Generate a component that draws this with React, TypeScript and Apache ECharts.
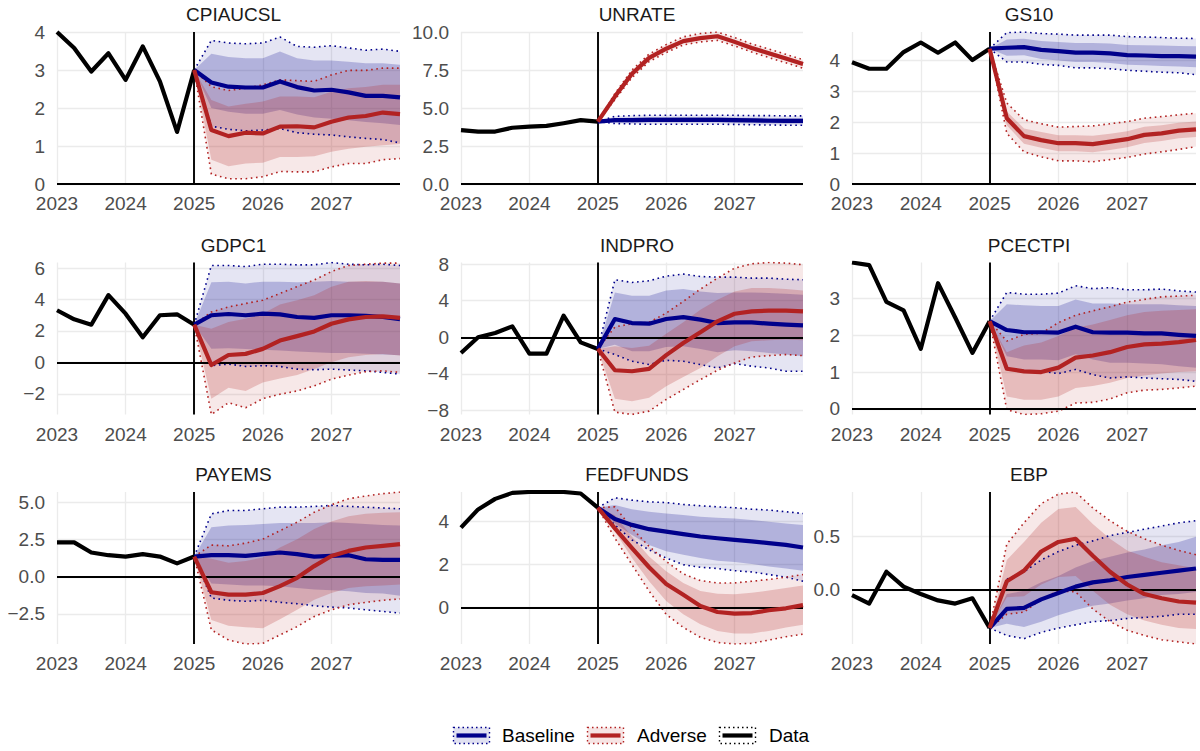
import React, { useEffect, useRef } from "react";
import * as echarts from "echarts";

// ---------- time axis ----------
const histQuarters = ["2023Q1", "2023Q2", "2023Q3", "2023Q4", "2024Q1", "2024Q2", "2024Q3", "2024Q4", "2025Q1"];
const fcQuarters = ["2025Q2", "2025Q3", "2025Q4", "2026Q1", "2026Q2", "2026Q3", "2026Q4", "2027Q1", "2027Q2", "2027Q3", "2027Q4", "2028Q1"];
const yearTicks = [2023, 2024, 2025, 2026, 2027];
const xStart = 2023;
const xEnd = 2028;
const forecastOrigin = 2025;

// ---------- CPIAUCSL ----------
const cpiHist = [4.0, 3.58, 2.96, 3.44, 2.74, 3.62, 2.7, 1.37, 3.0];
const cpiBaseMid = [2.67, 2.56, 2.54, 2.54, 2.7, 2.55, 2.46, 2.48, 2.41, 2.32, 2.32, 2.28];
const cpiBaseOutHi = [3.78, 3.71, 3.69, 3.71, 3.87, 3.62, 3.6, 3.64, 3.58, 3.52, 3.55, 3.49];
const cpiBaseOutLo = [1.52, 1.44, 1.4, 1.42, 1.46, 1.35, 1.31, 1.29, 1.24, 1.2, 1.17, 1.08];
const cpiBaseInHi = [3.43, 3.34, 3.31, 3.31, 3.49, 3.31, 3.25, 3.25, 3.22, 3.18, 3.18, 3.14];
const cpiBaseInLo = [2.0, 1.9, 1.85, 1.85, 1.95, 1.83, 1.75, 1.72, 1.68, 1.63, 1.6, 1.55];
const cpiAdvMid = [1.42, 1.26, 1.35, 1.33, 1.51, 1.52, 1.49, 1.64, 1.75, 1.79, 1.88, 1.84];
const cpiAdvOutHi = [2.56, 2.46, 2.52, 2.61, 2.74, 2.72, 2.7, 2.87, 2.99, 2.99, 3.05, 3.05];
const cpiAdvOutLo = [0.26, 0.14, 0.14, 0.19, 0.33, 0.32, 0.32, 0.45, 0.54, 0.54, 0.64, 0.67];
const cpiAdvInHi = [2.21, 2.04, 2.11, 2.17, 2.3, 2.3, 2.28, 2.43, 2.52, 2.55, 2.61, 2.61];
const cpiAdvInLo = [0.64, 0.47, 0.54, 0.56, 0.71, 0.71, 0.73, 0.85, 0.93, 0.98, 1.02, 1.05];
const cpiTicks = [0, 1, 2, 3, 4];

// ---------- UNRATE ----------
const unHist = [3.55, 3.45, 3.45, 3.7, 3.78, 3.82, 4.0, 4.2, 4.1];
const unBaseMid = [4.2, 4.2, 4.22, 4.22, 4.22, 4.22, 4.22, 4.2, 4.18, 4.16, 4.15, 4.15];
const unBaseOutHi = [4.45, 4.5, 4.52, 4.52, 4.52, 4.52, 4.52, 4.52, 4.5, 4.5, 4.48, 4.48];
const unBaseOutLo = [3.98, 3.95, 3.93, 3.93, 3.93, 3.93, 3.93, 3.92, 3.9, 3.88, 3.87, 3.87];
const unBaseInHi = [4.35, 4.38, 4.4, 4.4, 4.4, 4.4, 4.4, 4.38, 4.36, 4.35, 4.33, 4.33];
const unBaseInLo = [4.05, 4.02, 4.04, 4.04, 4.04, 4.04, 4.04, 4.02, 4.0, 3.98, 3.97, 3.97];
const unAdvMid = [5.75, 7.25, 8.3, 8.9, 9.4, 9.6, 9.72, 9.35, 8.95, 8.6, 8.25, 7.9];
const unAdvOutHi = [5.95, 7.5, 8.55, 9.17, 9.68, 9.9, 10.0, 9.63, 9.22, 8.88, 8.53, 8.18];
const unAdvOutLo = [5.55, 7.0, 8.05, 8.65, 9.15, 9.35, 9.45, 9.08, 8.68, 8.32, 7.97, 7.62];
const unAdvInHi = [5.85, 7.38, 8.43, 9.03, 9.53, 9.73, 9.85, 9.49, 9.09, 8.74, 8.39, 8.04];
const unAdvInLo = [5.65, 7.12, 8.17, 8.77, 9.27, 9.47, 9.59, 9.21, 8.81, 8.46, 8.11, 7.76];
const unTicks = [0, 2.5, 5, 7.5, 10];

// ---------- GS10 ----------
const gsHist = [3.94, 3.73, 3.73, 4.27, 4.58, 4.25, 4.58, 4.01, 4.38];
const gsBaseMid = [4.41, 4.43, 4.34, 4.3, 4.25, 4.25, 4.23, 4.17, 4.16, 4.14, 4.14, 4.12];
const gsBaseOutHi = [4.9, 4.92, 4.87, 4.85, 4.82, 4.82, 4.82, 4.77, 4.76, 4.74, 4.72, 4.71];
const gsBaseOutLo = [3.95, 3.95, 3.87, 3.84, 3.76, 3.76, 3.73, 3.68, 3.65, 3.62, 3.6, 3.54];
const gsBaseInHi = [4.68, 4.7, 4.63, 4.6, 4.56, 4.56, 4.55, 4.5, 4.49, 4.48, 4.47, 4.46];
const gsBaseInLo = [4.15, 4.17, 4.05, 4.0, 3.95, 3.95, 3.92, 3.86, 3.84, 3.82, 3.8, 3.78];
const gsAdvMid = [2.13, 1.55, 1.42, 1.32, 1.32, 1.29, 1.37, 1.45, 1.59, 1.64, 1.73, 1.77];
const gsAdvOutHi = [2.62, 2.08, 1.95, 1.84, 1.86, 1.88, 1.95, 2.02, 2.13, 2.18, 2.24, 2.29];
const gsAdvOutLo = [1.64, 1.04, 0.88, 0.75, 0.75, 0.72, 0.79, 0.86, 0.97, 1.04, 1.12, 1.21];
const gsAdvInHi = [2.35, 1.8, 1.68, 1.58, 1.58, 1.56, 1.63, 1.71, 1.85, 1.9, 1.98, 2.02];
const gsAdvInLo = [1.9, 1.3, 1.17, 1.06, 1.06, 1.03, 1.1, 1.19, 1.33, 1.39, 1.48, 1.52];
const gsTicks = [0, 1, 2, 3, 4];

// ---------- GDPC1 ----------
const gdpHist = [3.32, 2.74, 2.4, 4.28, 3.1, 1.6, 3.0, 3.06, 2.4];
const gdpBaseMid = [3.0, 3.08, 3.0, 3.1, 3.06, 2.89, 2.83, 3.0, 3.0, 2.96, 2.89, 2.75];
const gdpBaseOutHi = [6.17, 6.17, 6.1, 6.25, 6.25, 6.21, 6.21, 6.36, 6.25, 6.21, 6.25, 6.17];
const gdpBaseOutLo = [-0.21, -0.11, -0.26, -0.21, -0.26, -0.43, -0.47, -0.43, -0.49, -0.54, -0.64, -0.75];
const gdpBaseInHi = [5.1, 5.14, 5.03, 5.14, 5.14, 5.1, 5.14, 5.18, 5.14, 5.14, 5.14, 5.03];
const gdpBaseInLo = [0.86, 0.9, 0.85, 0.8, 0.75, 0.7, 0.65, 0.6, 0.6, 0.55, 0.5, 0.45];
const gdpAdvMid = [-0.17, 0.47, 0.54, 0.86, 1.39, 1.67, 1.97, 2.46, 2.74, 2.89, 2.93, 2.83];
const gdpAdvOutHi = [3.21, 3.53, 3.75, 3.96, 4.39, 4.82, 5.25, 5.78, 6.17, 6.25, 6.32, 6.32];
const gdpAdvOutLo = [-3.32, -2.57, -2.89, -2.31, -2.03, -1.82, -1.5, -1.07, -0.81, -0.6, -0.54, -0.64];
const gdpAdvInHi = [2.14, 2.57, 2.78, 3.1, 3.68, 3.96, 4.28, 4.82, 5.14, 5.18, 5.14, 5.03];
const gdpAdvInLo = [-2.31, -1.61, -1.82, -1.28, -1.03, -0.81, -0.43, 0.0, 0.32, 0.47, 0.54, 0.43];
const gdpTicks = [-2, 0, 2, 4, 6];

// ---------- INDPRO ----------
const ipHist = [-1.71, 0.0, 0.47, 1.2, -1.78, -1.78, 2.36, -0.55, -1.27];
const ipBaseMid = [2.0, 1.56, 1.49, 2.0, 2.2, 1.93, 1.56, 1.64, 1.64, 1.49, 1.38, 1.31];
const ipBaseOutHi = [6.29, 6.0, 6.18, 6.69, 6.91, 6.65, 6.58, 6.58, 6.47, 6.47, 6.36, 6.29];
const ipBaseOutLo = [-1.89, -2.62, -2.98, -2.51, -2.62, -2.98, -3.35, -2.87, -3.16, -3.35, -3.71, -3.71];
const ipBaseInHi = [4.91, 4.55, 4.55, 5.13, 5.27, 5.02, 4.84, 4.91, 4.91, 4.84, 4.76, 4.65];
const ipBaseInLo = [-0.8, -1.53, -1.53, -1.05, -0.98, -1.27, -1.64, -1.42, -1.53, -1.71, -1.89, -2.07];
const ipAdvMid = [-3.6, -3.71, -3.45, -1.95, -0.62, 0.55, 1.75, 2.58, 2.84, 2.91, 2.91, 2.84];
const ipAdvOutHi = [1.13, 1.49, 1.64, 2.65, 3.93, 5.27, 6.47, 7.56, 8.04, 8.18, 8.11, 7.93];
const ipAdvOutLo = [-8.18, -8.44, -8.07, -6.8, -5.71, -4.62, -3.6, -2.8, -2.15, -2.0, -1.89, -2.0];
const ipAdvInHi = [-0.98, -1.16, -0.91, 0.4, 1.64, 3.02, 4.11, 5.02, 5.38, 5.38, 5.27, 5.13];
const ipAdvInLo = [-6.73, -6.98, -6.62, -5.35, -4.33, -3.35, -2.07, -0.98, -0.44, -0.33, -0.25, -0.33];
const ipTicks = [-8, -4, 0, 4, 8];

// ---------- PCECTPI ----------
const pceHist = [3.97, 3.9, 2.9, 2.67, 1.63, 3.41, 2.48, 1.52, 2.38];
const pceBaseMid = [2.14, 2.08, 2.08, 2.07, 2.23, 2.08, 2.07, 2.07, 2.05, 2.05, 2.01, 1.98];
const pceBaseOutHi = [3.16, 3.11, 3.11, 3.14, 3.34, 3.26, 3.29, 3.23, 3.23, 3.25, 3.2, 3.17];
const pceBaseOutLo = [1.07, 1.02, 1.02, 0.96, 1.07, 0.93, 0.84, 0.87, 0.84, 0.82, 0.8, 0.75];
const pceBaseInHi = [2.84, 2.81, 2.79, 2.79, 2.97, 2.86, 2.86, 2.84, 2.84, 2.84, 2.81, 2.79];
const pceBaseInLo = [1.43, 1.34, 1.34, 1.32, 1.48, 1.34, 1.25, 1.25, 1.23, 1.21, 1.16, 1.12];
const pceAdvMid = [1.09, 1.02, 1.0, 1.12, 1.39, 1.45, 1.54, 1.68, 1.75, 1.77, 1.81, 1.87];
const pceAdvOutHi = [1.84, 2.02, 2.05, 2.34, 2.54, 2.66, 2.77, 2.9, 2.97, 3.04, 3.06, 3.08];
const pceAdvOutLo = [-0.02, -0.15, -0.13, -0.06, 0.16, 0.18, 0.27, 0.44, 0.51, 0.53, 0.57, 0.62];
const pceAdvInHi = [1.54, 1.72, 1.8, 1.98, 2.2, 2.29, 2.41, 2.54, 2.63, 2.66, 2.68, 2.7];
const pceAdvInLo = [0.34, 0.25, 0.25, 0.34, 0.57, 0.62, 0.71, 0.84, 0.91, 0.96, 1.0, 1.02];
const pceTicks = [0, 1, 2, 3];

// ---------- PAYEMS ----------
const payHist = [2.31, 2.31, 1.63, 1.45, 1.36, 1.52, 1.36, 0.9, 1.36];
const payBaseMid = [1.45, 1.45, 1.4, 1.52, 1.63, 1.52, 1.36, 1.4, 1.45, 1.18, 1.13, 1.13];
const payBaseOutHi = [4.23, 4.46, 4.46, 4.57, 4.68, 4.68, 4.73, 4.8, 4.73, 4.68, 4.62, 4.57];
const payBaseOutLo = [-1.43, -1.58, -1.65, -1.58, -1.72, -1.81, -1.95, -2.04, -2.1, -2.22, -2.33, -2.44];
const payBaseInHi = [3.33, 3.44, 3.48, 3.55, 3.62, 3.62, 3.62, 3.67, 3.62, 3.55, 3.48, 3.44];
const payBaseInLo = [-0.45, -0.52, -0.59, -0.59, -0.63, -0.75, -0.86, -0.9, -0.97, -1.09, -1.13, -1.27];
const payAdvMid = [-1.04, -1.2, -1.2, -1.09, -0.63, -0.07, 0.72, 1.4, 1.74, 1.97, 2.08, 2.19];
const payAdvOutHi = [2.13, 2.08, 2.26, 2.53, 3.1, 3.67, 4.34, 4.84, 5.25, 5.43, 5.59, 5.7];
const payAdvOutLo = [-3.57, -4.25, -4.52, -4.48, -3.91, -3.35, -2.67, -2.22, -1.88, -1.72, -1.58, -1.49];
const payAdvInHi = [1.22, 0.95, 1.06, 1.29, 1.97, 2.53, 3.21, 3.71, 4.07, 4.23, 4.3, 4.34];
const payAdvInLo = [-2.9, -3.3, -3.39, -3.46, -2.85, -2.22, -1.54, -1.09, -0.75, -0.63, -0.59, -0.52];
const payTicks = [-2.5, 0, 2.5, 5];

// ---------- FEDFUNDS ----------
const ffHist = [3.72, 4.57, 5.06, 5.34, 5.38, 5.38, 5.38, 5.31, 4.65];
const ffBaseMid = [4.12, 3.85, 3.65, 3.54, 3.42, 3.31, 3.23, 3.15, 3.08, 3.0, 2.92, 2.8];
const ffBaseOutHi = [5.11, 5.0, 4.92, 4.89, 4.8, 4.74, 4.69, 4.65, 4.58, 4.54, 4.46, 4.38];
const ffBaseOutLo = [3.85, 3.15, 2.69, 2.31, 2.0, 1.88, 1.82, 1.72, 1.66, 1.54, 1.42, 1.23];
const ffBaseInHi = [4.77, 4.58, 4.46, 4.38, 4.31, 4.23, 4.18, 4.15, 4.08, 4.0, 3.92, 3.85];
const ffBaseInLo = [3.92, 3.38, 2.92, 2.62, 2.46, 2.31, 2.18, 2.12, 2.03, 1.92, 1.82, 1.72];
const ffAdvMid = [3.69, 2.77, 1.88, 1.1, 0.6, 0.08, -0.2, -0.28, -0.25, -0.12, -0.03, 0.12];
const ffAdvOutHi = [4.69, 3.69, 2.85, 2.15, 1.57, 1.26, 1.15, 1.15, 1.23, 1.31, 1.42, 1.54];
const ffAdvOutLo = [3.23, 2.0, 0.77, -0.31, -0.92, -1.38, -1.62, -1.69, -1.66, -1.51, -1.35, -1.23];
const ffAdvInHi = [4.3, 3.3, 2.38, 1.69, 1.15, 0.77, 0.65, 0.62, 0.69, 0.8, 0.92, 1.03];
const ffAdvInLo = [3.54, 2.31, 1.23, 0.31, -0.31, -0.77, -1.08, -1.2, -1.2, -1.08, -0.92, -0.8];
const ffTicks = [0, 2, 4];

// ---------- EBP ----------
const ebpHist = [-0.05, -0.13, 0.17, 0.03, -0.04, -0.1, -0.13, -0.08, -0.36];
const ebpBaseMid = [-0.18, -0.17, -0.09, -0.03, 0.03, 0.07, 0.09, 0.12, 0.14, 0.16, 0.18, 0.2];
const ebpBaseOutHi = [0.1, 0.17, 0.28, 0.36, 0.42, 0.46, 0.51, 0.54, 0.57, 0.6, 0.63, 0.65];
const ebpBaseOutLo = [-0.43, -0.46, -0.4, -0.36, -0.33, -0.3, -0.29, -0.27, -0.26, -0.25, -0.23, -0.23];
const ebpBaseInHi = [-0.04, -0.01, 0.07, 0.13, 0.21, 0.27, 0.31, 0.35, 0.38, 0.42, 0.45, 0.5];
const ebpBaseInLo = [-0.32, -0.35, -0.3, -0.24, -0.19, -0.15, -0.13, -0.1, -0.08, -0.05, -0.04, -0.02];
const ebpAdvMid = [0.08, 0.18, 0.36, 0.45, 0.48, 0.32, 0.17, 0.05, -0.04, -0.08, -0.11, -0.12];
const ebpAdvOutHi = [0.43, 0.63, 0.81, 0.9, 0.92, 0.77, 0.65, 0.55, 0.48, 0.42, 0.37, 0.33];
const ebpAdvOutLo = [-0.23, -0.21, -0.09, -0.01, -0.02, -0.18, -0.3, -0.38, -0.43, -0.47, -0.49, -0.51];
const ebpAdvInHi = [0.28, 0.45, 0.63, 0.76, 0.78, 0.62, 0.48, 0.37, 0.31, 0.26, 0.23, 0.2];
const ebpAdvInLo = [-0.07, -0.06, 0.05, 0.12, 0.13, -0.01, -0.14, -0.23, -0.29, -0.33, -0.36, -0.37];
const ebpTicks = [0, 0.5];

// ---------- panel table ----------
const panels = [
  { name: "CPIAUCSL", hist: cpiHist, ticks: cpiTicks, digits: 0, bMid: cpiBaseMid, bInLo: cpiBaseInLo, bInHi: cpiBaseInHi, bOutLo: cpiBaseOutLo, bOutHi: cpiBaseOutHi, aMid: cpiAdvMid, aInLo: cpiAdvInLo, aInHi: cpiAdvInHi, aOutLo: cpiAdvOutLo, aOutHi: cpiAdvOutHi },
  { name: "UNRATE", hist: unHist, ticks: unTicks, digits: 1, bMid: unBaseMid, bInLo: unBaseInLo, bInHi: unBaseInHi, bOutLo: unBaseOutLo, bOutHi: unBaseOutHi, aMid: unAdvMid, aInLo: unAdvInLo, aInHi: unAdvInHi, aOutLo: unAdvOutLo, aOutHi: unAdvOutHi },
  { name: "GS10", hist: gsHist, ticks: gsTicks, digits: 0, bMid: gsBaseMid, bInLo: gsBaseInLo, bInHi: gsBaseInHi, bOutLo: gsBaseOutLo, bOutHi: gsBaseOutHi, aMid: gsAdvMid, aInLo: gsAdvInLo, aInHi: gsAdvInHi, aOutLo: gsAdvOutLo, aOutHi: gsAdvOutHi },
  { name: "GDPC1", hist: gdpHist, ticks: gdpTicks, digits: 0, bMid: gdpBaseMid, bInLo: gdpBaseInLo, bInHi: gdpBaseInHi, bOutLo: gdpBaseOutLo, bOutHi: gdpBaseOutHi, aMid: gdpAdvMid, aInLo: gdpAdvInLo, aInHi: gdpAdvInHi, aOutLo: gdpAdvOutLo, aOutHi: gdpAdvOutHi },
  { name: "INDPRO", hist: ipHist, ticks: ipTicks, digits: 0, bMid: ipBaseMid, bInLo: ipBaseInLo, bInHi: ipBaseInHi, bOutLo: ipBaseOutLo, bOutHi: ipBaseOutHi, aMid: ipAdvMid, aInLo: ipAdvInLo, aInHi: ipAdvInHi, aOutLo: ipAdvOutLo, aOutHi: ipAdvOutHi },
  { name: "PCECTPI", hist: pceHist, ticks: pceTicks, digits: 0, bMid: pceBaseMid, bInLo: pceBaseInLo, bInHi: pceBaseInHi, bOutLo: pceBaseOutLo, bOutHi: pceBaseOutHi, aMid: pceAdvMid, aInLo: pceAdvInLo, aInHi: pceAdvInHi, aOutLo: pceAdvOutLo, aOutHi: pceAdvOutHi },
  { name: "PAYEMS", hist: payHist, ticks: payTicks, digits: 1, bMid: payBaseMid, bInLo: payBaseInLo, bInHi: payBaseInHi, bOutLo: payBaseOutLo, bOutHi: payBaseOutHi, aMid: payAdvMid, aInLo: payAdvInLo, aInHi: payAdvInHi, aOutLo: payAdvOutLo, aOutHi: payAdvOutHi },
  { name: "FEDFUNDS", hist: ffHist, ticks: ffTicks, digits: 0, bMid: ffBaseMid, bInLo: ffBaseInLo, bInHi: ffBaseInHi, bOutLo: ffBaseOutLo, bOutHi: ffBaseOutHi, aMid: ffAdvMid, aInLo: ffAdvInLo, aInHi: ffAdvInHi, aOutLo: ffAdvOutLo, aOutHi: ffAdvOutHi },
  { name: "EBP", hist: ebpHist, ticks: ebpTicks, digits: 1, bMid: ebpBaseMid, bInLo: ebpBaseInLo, bInHi: ebpBaseInHi, bOutLo: ebpBaseOutLo, bOutHi: ebpBaseOutHi, aMid: ebpAdvMid, aInLo: ebpAdvInLo, aInHi: ebpAdvInHi, aOutLo: ebpAdvOutLo, aOutHi: ebpAdvOutHi },
];

// ---------- styling / layout ----------
const FONT = "'Liberation Sans', Arial, Helvetica, sans-serif";
const NAVY = "#00008B";
const RED = "#B22222";
const colLeft = [57, 461, 852];
const colWidth = [343, 342, 344];
const rowTop = [32, 262.5, 492];
const rowHeight = 152;
const GRID_COLOR = "#ebebeb";

const qNum = (q: string) => Number(q.slice(0, 4)) + (Number(q.slice(5)) - 1) / 4;
const histX = histQuarters.map(qNum);
const fcX = [histQuarters[histQuarters.length - 1], ...fcQuarters].map(qNum);

const fmtTick = (digits: number) => (v: number) => {
  const s = Math.abs(v).toFixed(digits);
  return v < -1e-9 ? "\u2212" + s : s;
};

function buildOption() {
  const grids: any[] = [];
  const xAxes: any[] = [];
  const yAxes: any[] = [];
  const titles: any[] = [];
  const series: any[] = [];

  panels.forEach((p, i) => {
    const col = i % 3;
    const row = Math.floor(i / 3);
    const last = p.hist[p.hist.length - 1];
    const withStart = (arr: number[]) => [last, ...arr];
    const all = [
      0, ...p.hist, ...p.bOutLo, ...p.bOutHi, ...p.aOutLo, ...p.aOutHi,
      ...p.bInLo, ...p.bInHi, ...p.aInLo, ...p.aInHi, ...p.bMid, ...p.aMid,
    ];
    const yMin = Math.min(...all);
    const yMax = Math.max(...all);

    grids.push({
      left: colLeft[col], top: rowTop[row], width: colWidth[col], height: rowHeight,
      containLabel: false, outerBoundsMode: "none",
    });
    xAxes.push({
      type: "value", gridIndex: i, min: xStart, max: xEnd,
      axisLine: { show: false, onZero: false },
      axisTick: { show: false, customValues: yearTicks },
      axisLabel: {
        customValues: yearTicks, formatter: (v: number) => String(Math.round(v)),
        color: "#4d4d4d", fontSize: 19, fontFamily: FONT, margin: 10,
      },
      splitLine: { show: true, lineStyle: { color: GRID_COLOR, width: 1.3 } },
    });
    yAxes.push({
      type: "value", gridIndex: i, min: yMin, max: yMax,
      axisLine: { show: false, onZero: false },
      axisTick: { show: false, customValues: p.ticks },
      axisLabel: {
        customValues: p.ticks, formatter: fmtTick(p.digits),
        color: "#4d4d4d", fontSize: 19, fontFamily: FONT, margin: 12,
      },
      splitLine: { show: true, lineStyle: { color: GRID_COLOR, width: 1.3 } },
    });
    titles.push({
      text: p.name,
      left: colLeft[col] + colWidth[col] / 2,
      top: rowTop[row] - 32,
      textAlign: "center",
      textStyle: { fontSize: 19, fontWeight: "normal", color: "#1a1a1a", fontFamily: FONT },
    });

    const band = (lo: number[], hi: number[], color: string) => ({
      type: "custom",
      xAxisIndex: i, yAxisIndex: i, silent: true,
      data: fcX.map((x, k) => [x, withStart(lo)[k], withStart(hi)[k]]),
      encode: { x: 0, y: [1, 2] },
      renderItem: (params: any, api: any) => {
        if (params.dataIndexInside !== 0) return null;
        const n = params.dataInsideLength;
        const up: number[][] = [];
        const dn: number[][] = [];
        for (let k = 0; k < n; k++) {
          up.push(api.coord([api.value(0, k), api.value(2, k)]));
          dn.push(api.coord([api.value(0, k), api.value(1, k)]));
        }
        return {
          type: "polygon",
          shape: { points: up.concat(dn.reverse()) },
          style: { fill: color, stroke: "none" },
          silent: true,
        };
      },
    });
    const line = (xs: number[], ys: number[], color: string, width: number, dashed: boolean, z: number, extra: any = {}) => ({
      type: "line",
      xAxisIndex: i, yAxisIndex: i, silent: true,
      data: xs.map((x, k) => [x, ys[k]]),
      symbol: "none", showSymbol: false,
      lineStyle: dashed
        ? { color, width: 1.6, type: [1.6, 3.6], cap: "butt" }
        : { color, width, type: "solid", join: "round", cap: "butt" },
      z,
      ...extra,
    });

    series.push(band(p.bOutLo, p.bOutHi, "rgba(0,0,139,0.10)"));
    series.push(band(p.bInLo, p.bInHi, "rgba(0,0,139,0.22)"));
    series.push(band(p.aOutLo, p.aOutHi, "rgba(178,34,34,0.10)"));
    series.push(band(p.aInLo, p.aInHi, "rgba(178,34,34,0.22)"));
    series.push(line(fcX, withStart(p.bOutHi), NAVY, 1.6, true, 3));
    series.push(line(fcX, withStart(p.bOutLo), NAVY, 1.6, true, 3));
    series.push(line(fcX, withStart(p.aOutHi), RED, 1.6, true, 3));
    series.push(line(fcX, withStart(p.aOutLo), RED, 1.6, true, 3));
    series.push(
      line(histX, p.hist, "#000000", 4.2, false, 4, {
        markLine: {
          silent: true, symbol: ["none", "none"], animation: false,
          label: { show: false },
          lineStyle: { color: "#000000", width: 1.9, type: "solid" },
          data: [{ yAxis: 0 }, { xAxis: forecastOrigin }],
        },
      })
    );
    series.push(line(fcX, withStart(p.bMid), NAVY, 4.2, false, 5));
    series.push(line(fcX, withStart(p.aMid), RED, 4.2, false, 5));
  });

  const legendItems = [
    { label: "Baseline", color: NAVY, fill: "rgba(0,0,139,0.12)", keyX: 453.5, textX: 502 },
    { label: "Adverse", color: RED, fill: "rgba(178,34,34,0.12)", keyX: 587.5, textX: 637 },
    { label: "Data", color: "#000000", fill: "rgba(255,255,255,0)", keyX: 719.5, textX: 769 },
  ];
  const graphic: any[] = [];
  legendItems.forEach((it) => {
    graphic.push({
      type: "rect", silent: true,
      shape: { x: it.keyX, y: 727.5, width: 36, height: 16 },
      style: { fill: it.fill, stroke: it.color, lineWidth: 1.4, lineDash: [1.5, 3] },
    });
    graphic.push({
      type: "line", silent: true,
      shape: { x1: it.keyX + 3, y1: 735.5, x2: it.keyX + 33, y2: 735.5 },
      style: { stroke: it.color, lineWidth: 4.2 },
    });
    graphic.push({
      type: "text", silent: true, x: it.textX, y: 735.5,
      style: { text: it.label, fill: "#000000", fontSize: 19, fontFamily: FONT, verticalAlign: "middle", align: "left" },
    });
  });

  return {
    animation: false,
    backgroundColor: "#ffffff",
    textStyle: { fontFamily: FONT },
    title: titles,
    grid: grids,
    xAxis: xAxes,
    yAxis: yAxes,
    series,
    graphic,
  };
}

export default function App() {
  const ref = useRef<HTMLDivElement>(null);
  useEffect(() => {
    if (!ref.current) return;
    const chart = echarts.init(ref.current, null, { renderer: "svg" });
    chart.setOption(buildOption() as any);
    return () => chart.dispose();
  }, []);
  return <div ref={ref} style={{ position: "absolute", left: 0, top: 0, width: 1200, height: 751 }} />;
}
